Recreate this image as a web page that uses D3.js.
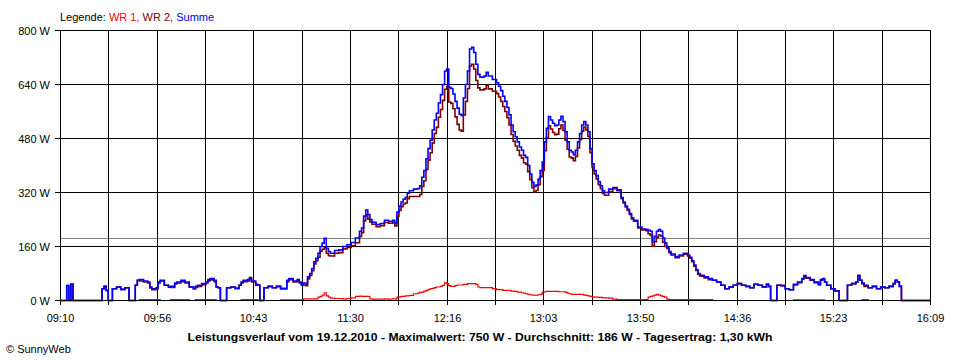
<!DOCTYPE html>
<html>
<head>
<meta charset="utf-8">
<script src="https://cdn.jsdelivr.net/npm/d3@7/dist/d3.min.js"></script>
<style>
  html, body { margin: 0; padding: 0; background: #fff; }
  svg { display: block; }
  text { font-family: "Liberation Sans", Arial, sans-serif; font-size: 11px; }
</style>
</head>
<body>
<svg id="chart" width="960" height="360"></svg>
<script>
// ---- data ----
const times = [
"09:10","09:13","09:14","09:15","09:16","09:30","09:31","09:32","09:33","09:35",
"09:37","09:39","09:41","09:43","09:46","09:47","09:48","09:50","09:52","09:53",
"09:54","09:56","09:57","09:58","10:00","10:02","10:03","10:05","10:06","10:08",
"10:10","10:12","10:14","10:15","10:16","10:18","10:20","10:21","10:22","10:24",
"10:25","10:26","10:27","10:30","10:32","10:34","10:36","10:37","10:38","10:40",
"10:41","10:42","10:44","10:45","10:46","10:48","10:50","10:52","10:54","10:56",
"10:58","10:59","11:00","11:02","11:04","11:05","11:06","11:07","11:08","11:09",
"11:10","11:11","11:12","11:13","11:14","11:15","11:16","11:17","11:18","11:19",
"11:20","11:22","11:24","11:26","11:28","11:30","11:32","11:34","11:35","11:36",
"11:37","11:38","11:39","11:40","11:42","11:44","11:46","11:48","11:50","11:51",
"11:52","11:53","11:54","11:55","11:56","11:57","11:58","12:00","12:02","12:03",
"12:04","12:05","12:06","12:07","12:08","12:09","12:10","12:11","12:12","12:13",
"12:14","12:15","12:16","12:17","12:18","12:19","12:20","12:21","12:22","12:23",
"12:24","12:25","12:26","12:27","12:28","12:29","12:30","12:31","12:32","12:34",
"12:35","12:36","12:38","12:40","12:41","12:42","12:43","12:44","12:45","12:46",
"12:47","12:48","12:49","12:50","12:51","12:52","12:53","12:54","12:55","12:56",
"12:57","12:58","12:59","13:00","13:01","13:02","13:03","13:04","13:05","13:06",
"13:07","13:08","13:09","13:10","13:11","13:12","13:13","13:14","13:15","13:16",
"13:17","13:18","13:19","13:20","13:21","13:22","13:23","13:24","13:25","13:26",
"13:27","13:28","13:29","13:30","13:31","13:32","13:34","13:36","13:38","13:40",
"13:41","13:42","13:43","13:44","13:45","13:46","13:48","13:50","13:52","13:53",
"13:54","13:55","13:56","13:57","13:58","13:59","14:00","14:01","14:02","14:03",
"14:04","14:06","14:08","14:10","14:12","14:13","14:14","14:15","14:16","14:17",
"14:18","14:20","14:22","14:24","14:26","14:28","14:30","14:32","14:34","14:36",
"14:38","14:40","14:42","14:44","14:46","14:48","14:50","14:51","14:52","14:55",
"14:57","14:59","15:01","15:03","15:05","15:07","15:08","15:09","15:11","15:13",
"15:15","15:16","15:17","15:18","15:19","15:21","15:23","15:25","15:29","15:31",
"15:33","15:34","15:35","15:36","15:37","15:39","15:41","15:43","15:45","15:47",
"15:49","15:51","15:52","15:53","15:54","15:55","16:09"
];
const summe = [
0,44,0,49,0,35,42,30,0,35,
40,33,38,0,45,60,62,58,55,40,
35,38,55,60,45,40,42,52,55,60,
55,40,35,42,45,50,55,62,65,60,
40,38,0,38,40,36,45,55,60,62,
68,58,48,45,0,38,42,38,42,36,
36,60,65,58,62,55,48,52,50,70,
80,95,115,125,140,160,170,184,155,145,
140,148,150,160,165,172,185,205,215,250,
268,255,240,232,225,228,238,235,238,228,
262,280,292,300,305,318,325,330,332,340,
365,385,420,450,475,505,535,555,585,610,
640,680,686,632,628,612,590,570,552,548,
600,640,680,745,750,735,700,670,662,665,
676,665,655,645,635,622,605,590,572,550,
520,500,485,470,455,445,430,424,400,375,
350,338,342,360,385,410,470,510,545,535,
525,518,520,535,546,530,500,470,445,440,
432,445,470,495,520,530,520,500,450,405,
385,370,352,340,325,320,330,335,328,305,
292,280,270,258,245,238,218,212,210,208,
205,175,190,205,210,205,185,170,158,145,
138,130,135,140,135,128,118,105,92,80,
75,70,65,60,55,45,35,40,45,50,
45,42,38,48,45,40,48,42,0,45,
44,35,32,48,55,65,74,68,62,55,
48,62,65,55,45,35,28,0,45,50,
55,74,60,52,45,38,42,35,40,38,
42,50,60,55,42,0,0
];
const wr1 = [
0,0,0,0,0,0,0,0,0,0,
0,0,0,0,0,0,3,3,3,3,
3,3,3,0,0,0,3,3,3,3,
3,0,0,3,3,3,3,3,3,3,
0,0,0,0,0,0,0,3,3,3,
3,3,3,0,0,0,0,0,0,2,
2,2,2,2,2,2,2,5,5,5,
5,5,5,5,10,12,16,23,14,10,
7,6,6,5,6,8,12,13,12,12,
12,12,5,4,4,4,5,4,5,5,
10,11,12,12,14,14,15,20,22,24,
25,28,30,32,35,36,38,40,40,42,
45,52,50,44,42,42,44,46,46,46,
48,48,50,50,50,50,48,40,38,38,
38,38,35,32,32,32,30,30,30,30,
28,28,27,25,25,23,22,20,18,17,
16,16,16,17,18,25,26,27,27,27,
27,27,27,26,26,26,25,22,20,18,
18,18,18,18,18,16,15,14,12,11,
10,10,9,9,8,8,7,4,3,3,
3,3,3,3,3,3,3,3,3,10,
12,14,16,18,16,14,12,10,4,3,
3,3,3,3,3,3,3,3,3,3,
3,3,3,0,0,0,0,0,0,0,
0,0,0,0,0,0,0,0,0,0,
0,0,0,2,2,2,2,2,2,2,
2,2,2,0,0,0,0,0,0,0,
0,0,0,3,3,0,0,0,0,0,
0,0,0,0,0,0,0
];
const wr2 = [
0,44,0,49,0,35,42,30,0,35,
40,33,38,0,45,60,58,55,52,37,
32,35,52,58,45,40,39,49,52,56,
52,40,35,39,42,47,52,58,61,56,
40,38,0,38,40,36,45,52,56,58,
64,55,45,45,0,38,42,38,42,34,
34,56,62,55,59,52,45,46,44,64,
74,88,108,118,128,146,152,158,140,133,
132,140,142,153,157,162,171,190,201,236,
254,241,233,226,219,222,231,229,231,221,
250,267,278,286,289,302,308,308,308,314,
338,355,388,416,438,467,495,513,543,566,
593,626,634,588,584,568,544,522,505,502,
550,590,628,695,700,686,652,630,624,627,
638,627,620,613,603,590,575,560,542,520,
492,472,458,445,430,422,408,404,382,358,
334,322,326,343,367,385,444,483,518,508,
498,491,493,509,520,504,475,448,425,422,
414,427,452,477,502,514,505,486,438,394,
375,360,343,331,317,312,323,331,325,302,
289,277,267,255,242,235,215,209,207,198,
193,161,174,187,194,191,173,160,154,142,
135,127,132,137,132,125,115,102,89,77,
72,67,62,60,55,45,35,40,45,50,
45,42,38,48,45,40,48,42,0,45,
44,35,32,46,53,63,72,66,60,53,
46,60,63,55,45,35,28,0,45,50,
55,74,60,49,42,38,42,35,40,38,
42,50,60,55,42,0,0
];
const yTicks = [0, 160, 320, 480, 640, 800];
const xTickLabels = ["09:10","09:56","10:43","11:30","12:16","13:03","13:50","14:36","15:23","16:09"];
const average = 186;
const legendItems = [
  {text: "Legende: ", color: "#000000"},
  {text: "WR 1, ", color: "#ff0000"},
  {text: "WR 2, ", color: "#800000"},
  {text: "Summe", color: "#0000ff"}
];
const titleText = "Leistungsverlauf vom 19.12.2010 - Maximalwert: 750 W - Durchschnitt: 186 W - Tagesertrag: 1,30 kWh";
const copyright = "\u00a9 SunnyWeb";

// ---- chart ----
const svg = d3.select("#chart");
const toMin = s => { const [h, m] = s.split(":").map(Number); return h * 60 + m; };
const t0 = toMin("09:10"), t1 = toMin("16:09");
const x = d3.scaleLinear().domain([t0, t1]).range([60.5, 930.5]);
const y = d3.scaleLinear().domain([0, 800]).range([300.5, 30.5]);

const g = svg.append("g");
// average line
g.append("line").attr("x1", 60).attr("x2", 931)
  .attr("y1", Math.round(y(average)) + 0.5).attr("y2", Math.round(y(average)) + 0.5)
  .attr("stroke", "#808080").attr("stroke-width", 1);

// horizontal grid + y labels
yTicks.forEach(v => {
  const yy = Math.round(y(v) - 0.5) + 0.5;
  if (v !== 0) g.append("line").attr("x1", 55).attr("x2", 931).attr("y1", yy).attr("y2", yy)
    .attr("stroke", "#000").attr("stroke-width", 1);
  g.append("text").attr("x", 50).attr("y", yy + 4).attr("text-anchor", "end").text(v + " W");
});

// vertical grid (every half label interval) + x labels
const nLines = (xTickLabels.length - 1) * 2;
d3.range(nLines + 1).forEach(i => {
  const tm = t0 + (t1 - t0) * i / nLines;
  const xx = Math.round(x(tm) - 0.5) + 0.5;
  g.append("line").attr("x1", xx).attr("x2", xx).attr("y1", 30).attr("y2", 305)
    .attr("stroke", "#000").attr("stroke-width", 1);
  if (i % 2 === 0) g.append("text").attr("x", xx).attr("y", 322).attr("text-anchor", "middle")
    .text(xTickLabels[i / 2]);
});

// series
const makeData = vals => times.map((t, i) => ({t: toMin(t), v: vals[i]}));
const line = d3.line().x(d => x(d.t)).y(d => y(d.v)).curve(d3.curveStepAfter);
const series = [
  {vals: wr1, color: "#ff0000", w: 1.2},
  {vals: wr2, color: "#800000", w: 1.6},
  {vals: summe, color: "#0000ff", w: 1.6}
];
series.forEach(s => {
  g.append("path").datum(makeData(s.vals)).attr("d", line)
    .attr("fill", "none").attr("stroke", s.color).attr("stroke-width", s.w);
});

// baseline (0 W) on top
g.append("line").attr("x1", 55).attr("x2", 931).attr("y1", y(0)).attr("y2", y(0))
  .attr("stroke", "#000").attr("stroke-width", 1);

// legend
const leg = svg.append("text").attr("x", 60).attr("y", 21);
legendItems.forEach(it => leg.append("tspan").attr("fill", it.color).text(it.text));

// title
svg.append("text").attr("x", 480).attr("y", 341).attr("text-anchor", "middle")
  .attr("font-weight", "bold").attr("textLength", 585).attr("lengthAdjust", "spacingAndGlyphs")
  .text(titleText);
svg.append("text").attr("x", 6).attr("y", 353).text(copyright);
</script>
</body>
</html>
